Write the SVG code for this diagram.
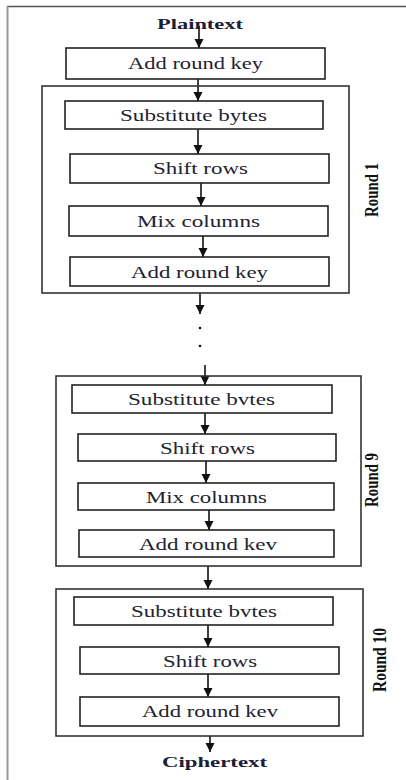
<svg xmlns="http://www.w3.org/2000/svg" width="406" height="780" viewBox="0 0 406 780">
<defs>
<marker id="ah" viewBox="0 0 10 10" refX="10" refY="5" markerWidth="9" markerHeight="11" orient="auto" markerUnits="userSpaceOnUse">
<path d="M0,0 L10,5 L0,10 z" fill="#111"/>
</marker>
<style>
.box{fill:#fff;stroke:#222;stroke-width:1.6}
.round{fill:none;stroke:#333;stroke-width:1.6}
.t{font-family:"Liberation Serif","Times New Roman",serif;font-size:16.5px;fill:#1e2230;text-anchor:middle}
.b{font-family:"Liberation Serif","Times New Roman",serif;font-size:15px;font-weight:bold;fill:#1a2038;text-anchor:middle}
.r{font-family:"Liberation Serif","Times New Roman",serif;font-size:19px;font-weight:bold;fill:#111;text-anchor:middle}
.c{stroke:#111;stroke-width:1.6;fill:none;marker-end:url(#ah)}
</style>
</defs>
<rect width="406" height="780" fill="#fff"/>
<g id="frame">
<line x1="7" y1="6.5" x2="406" y2="6.5" stroke="#555" stroke-width="1.6"/>
<line x1="7.5" y1="6" x2="7.5" y2="780" stroke="#999" stroke-width="2"/>
</g>
<g id="connectors">
<line class="c" x1="199" y1="26" x2="199" y2="48"/>
<line class="c" x1="198" y1="79" x2="198" y2="101"/>
<line class="c" x1="198" y1="129" x2="198" y2="154"/>
<line class="c" x1="201" y1="183" x2="201" y2="206"/>
<line class="c" x1="203" y1="236" x2="203" y2="257"/>
<line class="c" x1="200" y1="293" x2="200" y2="314"/>
<circle cx="200" cy="328" r="1.3" fill="#111"/>
<circle cx="200" cy="346" r="1.3" fill="#111"/>
<line class="c" x1="205" y1="365" x2="205" y2="385"/>
<line class="c" x1="205" y1="413" x2="205" y2="434"/>
<line class="c" x1="206" y1="461" x2="206" y2="483"/>
<line class="c" x1="209" y1="510" x2="209" y2="530"/>
<line class="c" x1="208" y1="566" x2="208" y2="589"/>
<line class="c" x1="208" y1="625" x2="208" y2="647"/>
<line class="c" x1="208" y1="674" x2="208" y2="697"/>
<line class="c" x1="210" y1="736" x2="210" y2="752"/>
</g>
<g id="plaintext"><text class="b" x="200" y="29" textLength="86" lengthAdjust="spacingAndGlyphs">Plaintext</text></g>
<g id="addkey0"><rect class="box" x="66" y="48" width="259" height="31"/><text class="t" x="195.5" y="69" textLength="135" lengthAdjust="spacingAndGlyphs">Add round key</text></g>
<g id="round1">
<rect class="round" x="42" y="86" width="307" height="207"/>
<text class="r" transform="translate(378,190) rotate(-90)" textLength="54" lengthAdjust="spacingAndGlyphs">Round 1</text>
</g>
<g id="r1sub"><rect class="box" x="65" y="101" width="258" height="28"/><text class="t" x="193.5" y="121" textLength="147" lengthAdjust="spacingAndGlyphs">Substitute bytes</text></g>
<g id="r1shift"><rect class="box" x="70" y="154" width="259" height="29"/><text class="t" x="200.5" y="174" textLength="95" lengthAdjust="spacingAndGlyphs">Shift rows</text></g>
<g id="r1mix"><rect class="box" x="69" y="206" width="259" height="30"/><text class="t" x="198.5" y="227" textLength="123" lengthAdjust="spacingAndGlyphs">Mix columns</text></g>
<g id="r1add"><rect class="box" x="70" y="257" width="259" height="29"/><text class="t" x="199.5" y="278" textLength="137" lengthAdjust="spacingAndGlyphs">Add round key</text></g>
<g id="round9">
<rect class="round" x="56" y="376" width="305" height="190"/>
<text class="r" transform="translate(378,480) rotate(-90)" textLength="54" lengthAdjust="spacingAndGlyphs">Round 9</text>
</g>
<g id="r9sub"><rect class="box" x="72" y="385" width="260" height="28"/><text class="t" x="201.5" y="405" textLength="147" lengthAdjust="spacingAndGlyphs">Substitute bvtes</text></g>
<g id="r9shift"><rect class="box" x="78" y="434" width="258" height="27"/><text class="t" x="207.5" y="454" textLength="95" lengthAdjust="spacingAndGlyphs">Shift rows</text></g>
<g id="r9mix"><rect class="box" x="78" y="483" width="256" height="27"/><text class="t" x="206.5" y="503" textLength="121" lengthAdjust="spacingAndGlyphs">Mix columns</text></g>
<g id="r9add"><rect class="box" x="79" y="530" width="255" height="27"/><text class="t" x="208" y="550" textLength="138" lengthAdjust="spacingAndGlyphs">Add round kev</text></g>
<g id="round10">
<rect class="round" x="56" y="589" width="307" height="147"/>
<text class="r" transform="translate(386,660) rotate(-90)" textLength="64" lengthAdjust="spacingAndGlyphs">Round 10</text>
</g>
<g id="r10sub"><rect class="box" x="74" y="597" width="259" height="28"/><text class="t" x="204" y="617" textLength="146" lengthAdjust="spacingAndGlyphs">Substitute bvtes</text></g>
<g id="r10shift"><rect class="box" x="80" y="647" width="259" height="27"/><text class="t" x="210" y="667" textLength="94" lengthAdjust="spacingAndGlyphs">Shift rows</text></g>
<g id="r10add"><rect class="box" x="80" y="697" width="259" height="29"/><text class="t" x="210" y="717" textLength="136" lengthAdjust="spacingAndGlyphs">Add round kev</text></g>
<g id="ciphertext"><text class="b" x="214.5" y="767" textLength="105" lengthAdjust="spacingAndGlyphs">Ciphertext</text></g>
</svg>
